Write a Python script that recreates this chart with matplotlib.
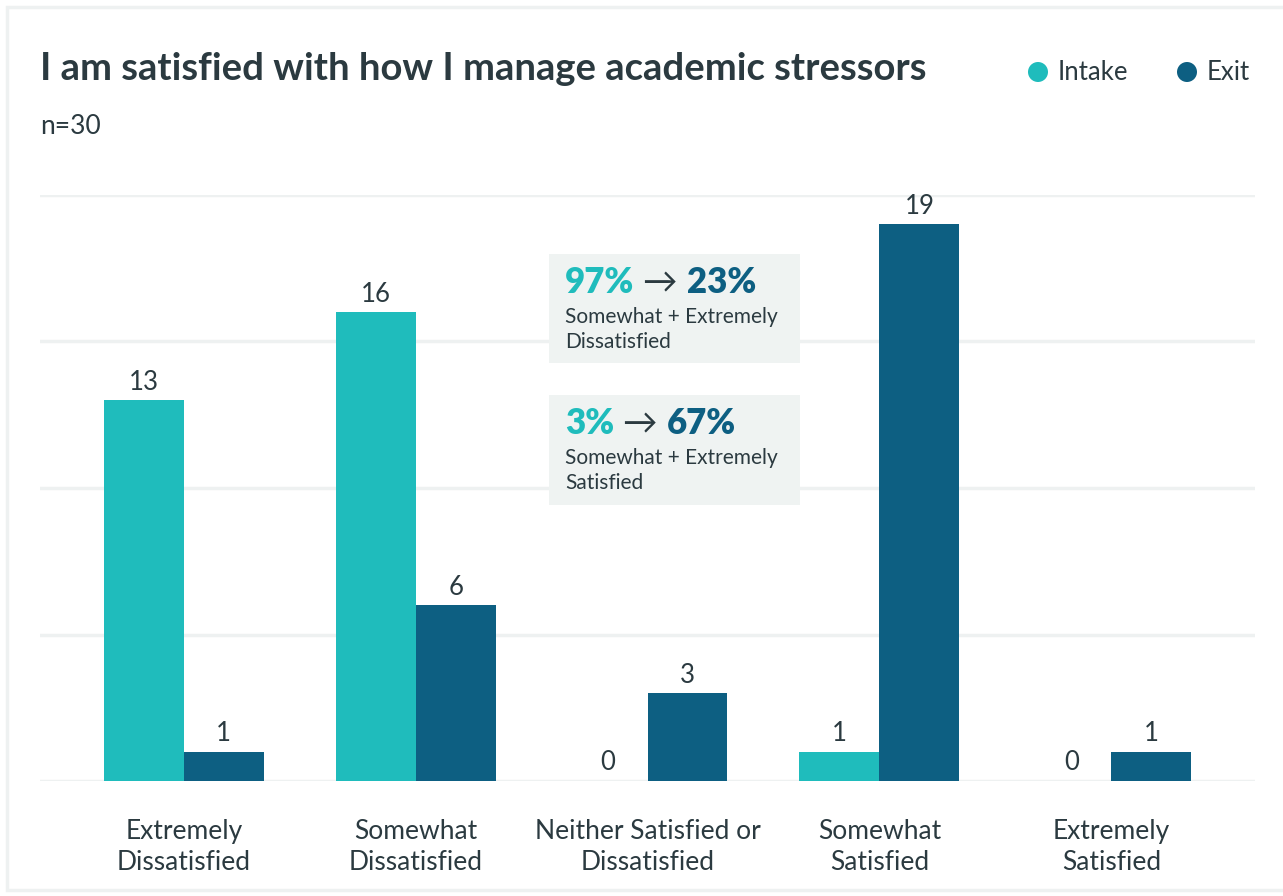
import matplotlib
matplotlib.use("Agg")
import matplotlib.pyplot as plt
from matplotlib.patches import Rectangle, Ellipse
import numpy as np

categories = ["Extremely\nDissatisfied", "Somewhat\nDissatisfied", "Neither Satisfied or\nDissatisfied",
              "Somewhat\nSatisfied", "Extremely\nSatisfied"]
intake = [13, 16, 0, 1, 0]
exit_ = [1, 6, 3, 19, 1]
n_total = 30
yticks = [0, 5, 10, 15, 20]

TEAL = "#1fbcbc"
NAVY = "#0d5f82"
TEXT = "#2b3a40"
GRID = "#eef1f1"
BOXBG = "#eff3f2"
FONT = ["Lato", "DejaVu Sans"]
plt.rcParams['font.family'] = FONT

W, H = 1283, 896
fig = plt.figure(figsize=(W / 100, H / 100), dpi=100)

def fx(x):
    return x / W

def fy(y):
    return 1 - y / H

# card border
fig.patches.append(Rectangle((fx(7), fy(890)), fx(1290) - fx(7), fy(7) - fy(890), transform=fig.transFigure,
                             facecolor="white", edgecolor=GRID, linewidth=2.5, zorder=-5))

ax = fig.add_axes([fx(40), fy(781), fx(1255) - fx(40), fy(195) - fy(781)])
ax.set_facecolor("none")
x = np.arange(len(categories))
w = 0.345
b1 = ax.bar(x - w / 2, intake, w, color=TEAL, zorder=3)
b2 = ax.bar(x + w / 2, exit_, w, color=NAVY, zorder=3)
for bars, vals in ((b1, intake), (b2, exit_)):
    for r, v in zip(bars, vals):
        ax.annotate(str(v), (r.get_x() + r.get_width() / 2, v), xytext=(0, 4), textcoords="offset points",
                    ha="center", va="bottom", fontsize=18.5, color=TEXT)

ax.set_xlim(-0.62, 4.62)
ax.set_ylim(0, 20)
ax.set_yticks(yticks)
ax.set_yticklabels([])
ax.tick_params(length=0)
ax.grid(axis="y", color=GRID, linewidth=2.5, zorder=0)
for s in ax.spines.values():
    s.set_visible(False)
ax.set_xticks(x)
ax.set_xticklabels(categories, fontsize=19, color=TEXT, linespacing=1.3)
ax.tick_params(axis="x", pad=27)

# title, subtitle, legend
fig.text(fx(40), fy(69), "I am satisfied with how I manage academic stressors", fontsize=27.5, fontweight="bold",
         color=TEXT, va="center", ha="left")
fig.text(fx(40), fy(126), f"n={n_total}", fontsize=19, color=TEXT, va="center", ha="left")
for cx, lab, col in ((1038, "Intake", TEAL), (1187, "Exit", NAVY)):
    fig.patches.append(Ellipse((fx(cx), fy(72)), 20 / W, 20 / H, transform=fig.transFigure,
                               facecolor=col, edgecolor="none"))
    fig.text(fx(cx + 20), fy(72), lab, fontsize=18.5, color=TEXT, va="center", ha="left")

# annotation boxes
def pct(v):
    return f"{round(100 * v / n_total)}%"

boxes = [
    (254, 363, pct(intake[0] + intake[1]), pct(exit_[0] + exit_[1]), "Somewhat + Extremely\nDissatisfied"),
    (395, 505, pct(intake[3] + intake[4]), pct(exit_[3] + exit_[4]), "Somewhat + Extremely\nSatisfied"),
]
renderer = fig.canvas.get_renderer()
for top, bot, a, b, desc in boxes:
    fig.patches.append(Rectangle((fx(549), fy(bot)), fx(800) - fx(549), fy(top) - fy(bot),
                                 transform=fig.transFigure, facecolor=BOXBG, edgecolor="none", zorder=1))
    xpos = 565
    base = top + 39
    for s, col, wt in ((a, TEAL, "heavy"), (" \u2192 ", TEXT, "normal"), (b, NAVY, "heavy")):
        t = fig.text(fx(xpos), fy(base), s, fontsize=25, fontweight=wt, color=col, ha="left",
                     va="baseline", zorder=3)
        bb = t.get_window_extent(renderer=renderer)
        xpos += bb.width
    fig.text(fx(565), fy(top + 53), desc, fontsize=15, color=TEXT, ha="left", va="top", linespacing=1.3, zorder=3)

fig.savefig("out.png", dpi=100, facecolor="white")
